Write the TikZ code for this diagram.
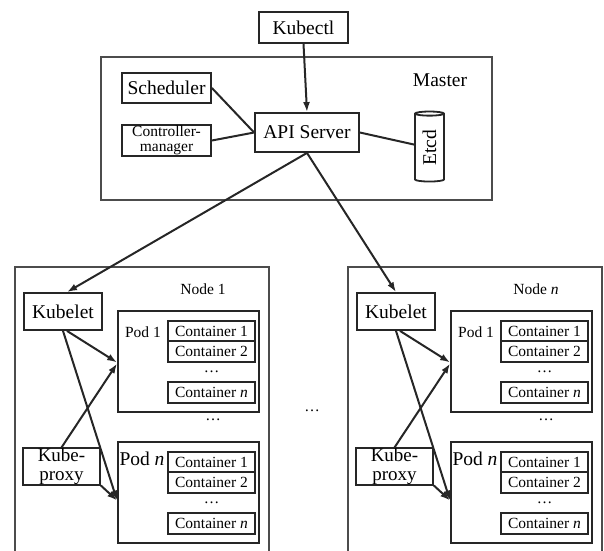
\documentclass[tikz,border=0pt]{standalone}
\usepackage{fontspec}
\setmainfont{Liberation Serif}
\usetikzlibrary{arrows.meta,shapes.geometric}

\tikzset{
	bigtxt/.style={font=\rmfamily\fontsize{19.5}{17}\selectfont},
	smalltxt/.style={font=\rmfamily\fontsize{15.5}{14.5}\selectfont},
	box/.style={draw=black!85, line width=1.8pt, inner sep=0pt},
	outer/.style={draw=black!70, line width=2pt},
	cont/.style={box, smalltxt, line width=2pt, minimum width=87pt, minimum height=20.5pt},
	link/.style={draw=black!85, line width=2pt},
	arr/.style={link, -{Latex[length=10pt,width=7pt]}}
}

\begin{document}
\begin{tikzpicture}[x=1pt,y=-1pt]
	\useasboundingbox (0,0) rectangle (604,550);
	% master
	\draw[outer] (101,57) rectangle (492,200);
	\node[bigtxt] (master) at (440,80) {Master};
	\node[box,bigtxt,minimum width=89pt,minimum height=31pt] (kubectl) at (303.5,27.5) {Kubectl};
	\node[box,bigtxt,minimum width=89pt,minimum height=30pt] (sched) at (166.5,88) {Scheduler};
	\node[box,smalltxt,align=center,minimum width=89pt,minimum height=31pt] (ctrl) at (166.5,140.5) {Controller-\\manager};
	\node[box,bigtxt,minimum width=104pt,minimum height=39pt] (api) at (307,132.5) {API Server};
	\node[box,bigtxt,cylinder,shape border rotate=90,minimum width=29pt,minimum height=70pt,aspect=0.3] (etcd) at (429.5,148) {\rotatebox{90}{Etcd}};
	\draw[arr] (kubectl.south) -- (api.north);
	\draw[link] (sched.east) -- (api.west);
	\draw[link] (ctrl.east) -- (api.west);
	\draw[link] (api.east) -- (etcd);
	% worker nodes
	\foreach \dx/\i/\lbl in {0/1/1, 333/2/\textit{n}} {
		\begin{scope}[xshift=\dx]
			\draw[outer] (15,560) |- (269,267) -- (269,560);
			\node[smalltxt] (lbl\i) at (203,289) {Node \lbl};
			\node[box,bigtxt,minimum width=78pt,minimum height=37pt] (kl\i) at (63,311.5) {Kubelet};
			\node[box,align=center,font=\rmfamily\fontsize{19}{19}\selectfont,minimum width=77pt,minimum height=35pt] (kp\i) at (61.5,466.5) {Kube-\\proxy};
			\node[box,minimum width=141pt,minimum height=101pt] (pa\i) at (188.5,361.5) {};
			\node[box,minimum width=141pt,minimum height=101pt] (pb\i) at (188.5,492.5) {};
			\node[smalltxt] (pal\i) at (143,332) {Pod 1};
			\node[bigtxt] (pbl\i) at (142,459) {Pod \textit{n}};
			\node[smalltxt] (pd\i) at (213,420) {\dots};
			\foreach \py/\p in {0/a, 131/b} {
				\node[cont] (\p c1\i) at (211.5,{331+\py}) {Container 1};
				\node[cont] (\p c2\i) at (211.5,{351.5+\py}) {Container 2};
				\node[smalltxt] (\p cd\i) at (211.5,{372+\py}) {\dots};
				\node[cont] (\p cn\i) at (211.5,{392.5+\py}) {Container \textit{n}};
			}
			\draw[arr] ([xshift=4pt]kl\i.south) -- ([yshift=-1pt]pa\i.west);
			\draw[arr] (kl\i.south) -- ([yshift=-8pt]pb\i.west);
			\draw[arr] (kp\i.north) -- ([yshift=-2pt]pa\i.west);
			\draw[arr] (kp\i.south east) -- ([yshift=-8pt]pb\i.west);
		\end{scope}
	}
	\draw[arr] (api.south) -- ([xshift=4pt]kl1.north);
	\draw[arr] (api.south) -- (kl2.north);
	\node[smalltxt] (gap) at (312,411) {\dots};
\end{tikzpicture}
\end{document}
